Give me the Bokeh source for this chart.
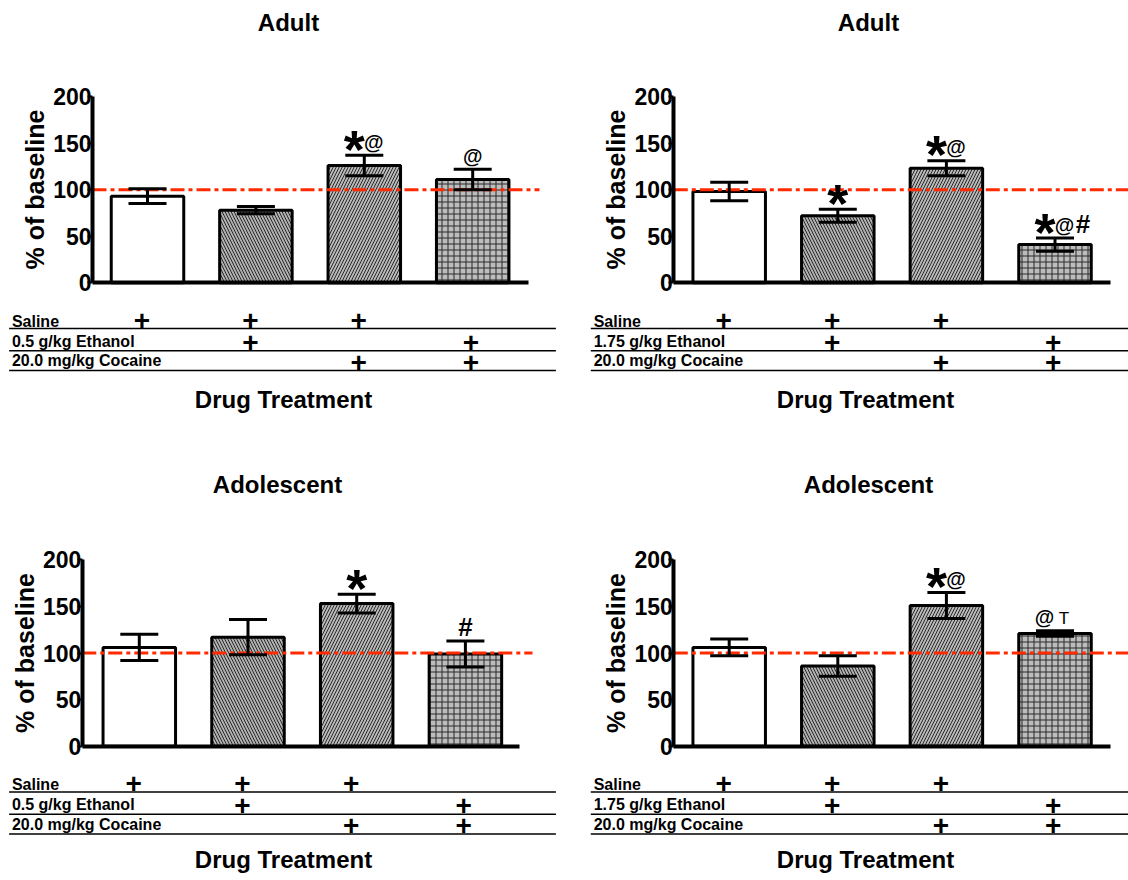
from bokeh.plotting import figure
from bokeh.models import Range1d, FixedTicker, ColumnDataSource, Whisker, TeeHead
from bokeh.layouts import row, column
from bokeh.core.properties import value
from bokeh.embed import file_html
from bokeh.resources import INLINE

# ---------------- data ----------------
bar_pos = [1, 2, 3, 4]
saline_plus = [1, 1, 1, 0]
ethanol_plus = [0, 1, 0, 1]
cocaine_plus = [0, 0, 1, 1]
rows_low = ["Saline", "0.5 g/kg Ethanol", "20.0 mg/kg Cocaine"]
rows_high = ["Saline", "1.75 g/kg Ethanol", "20.0 mg/kg Cocaine"]
y_ticks = [0, 50, 100, 150, 200]
baseline_pct = 100
x_title = "Drug Treatment"
y_title = "% of baseline"

adult_low_mean = [93, 78, 126, 111]
adult_low_sem = [8, 4, 11, 11]
adult_low_marks = ["", "", "*@", "@"]

adult_high_mean = [98, 72, 123, 41]
adult_high_sem = [10, 7, 8, 7]
adult_high_marks = ["", "*", "*@", "*@#"]

adol_low_mean = [106, 117, 153, 99]
adol_low_sem = [14, 19, 10, 14]
adol_low_marks = ["", "", "*", "#"]

adol_high_mean = [106, 86, 151, 121]
adol_high_sem = [9, 11, 14, 3]
adol_high_marks = ["", "", "*@", "@ T"]

# ---------------- styling / layout ----------------
FONT = value("Liberation Sans")
bar_fill = ["#ffffff", "#b0b0b0", "#b8b8b8", "#bcbcbc"]
bar_hatch = [" ", "\\", "/", "+"]
plus_dx = [-5.5, -5.5, -5.5, -1.7]
line_dy = [45.8, 68.0, 87.7]
plus_dy = [37.4, 59.4, 79.4]
text_dy = [38.6, 58.6, 78.0]   # centre of row label text
CHAR = {  # size px, weight, advance px, shift of em-middle below ink centre
    "*": (54, "bold", 20, 5.5),
    "@": (20, "bold", 19, -1.5),
    "#": (26, "bold", 18, -2.0),
    "T": (17, "normal", 12, 0.0),
    " ": (0, "normal", 4, 0.0),
}

PANELS = [
    dict(title="Adult", rows=rows_low, mean=adult_low_mean, sem=adult_low_sem, marks=adult_low_marks,
         ox=0, oy=0, w=568, h=470, axis_x=92, axis_end=528, c1=147, step=108.4,
         y0=282.3, y200=96.0, ref_end=539, lx0=8.6, lx1=555.4, label_x=11.4,
         title_xy=(288, 21.7), xlab_xy=(283, 399)),
    dict(title="Adult", rows=rows_high, mean=adult_high_mean, sem=adult_high_sem, marks=adult_high_marks,
         ox=568, oy=0, w=560, h=470, axis_x=673.3, axis_end=1109.7, c1=728.7, step=108.6,
         y0=282.3, y200=96.0, ref_end=1128, lx0=590.3, lx1=1128, label_x=593.2,
         title_xy=(868, 21.7), xlab_xy=(865, 399)),
    dict(title="Adolescent", rows=rows_low, mean=adol_low_mean, sem=adol_low_sem, marks=adol_low_marks,
         ox=0, oy=470, w=568, h=410, axis_x=81.8, axis_end=519, c1=138.8, step=108.7,
         y0=745.7, y200=559.3, ref_end=532, lx0=8.6, lx1=555.4, label_x=11.4,
         title_xy=(277, 484), xlab_xy=(283, 859)),
    dict(title="Adolescent", rows=rows_high, mean=adol_high_mean, sem=adol_high_sem, marks=adol_high_marks,
         ox=568, oy=470, w=560, h=410, axis_x=673.3, axis_end=1109.7, c1=728.7, step=108.6,
         y0=745.7, y200=559.3, ref_end=1128, lx0=590.3, lx1=1128, label_x=593.2,
         title_xy=(868, 484), xlab_xy=(865, 859)),
]


def build(P):
    k = (P["y0"] - P["y200"]) / 200.0
    step = P["step"]
    xs0 = 1 - (P["c1"] - P["ox"]) / step

    def X(px):
        return xs0 + (px - P["ox"]) / step

    def Y(py):
        return (P["y0"] - py) / k

    p = figure(width=P["w"], height=P["h"],
               x_range=Range1d(X(P["ox"]), X(P["ox"] + P["w"])),
               y_range=Range1d(Y(P["oy"] + P["h"]), Y(P["oy"])),
               output_backend="svg", toolbar_location=None, title=None,
               min_border=0, outline_line_color=None, background_fill_color="white",
               border_fill_color="white")
    p.grid.visible = False

    # axes
    xa = p.xaxis[0]
    xa.fixed_location = 0
    xa.bounds = (X(P["axis_x"]), X(P["axis_end"]))
    xa.ticker = FixedTicker(ticks=[])
    xa.axis_line_width = 4
    xa.major_tick_line_color = None
    xa.minor_tick_line_color = None

    ya = p.yaxis[0]
    ya.fixed_location = X(P["axis_x"])
    ya.bounds = (0, 200)
    ya.ticker = FixedTicker(ticks=y_ticks)
    ya.axis_line_width = 4
    ya.major_tick_in = 0
    ya.major_tick_out = 5
    ya.major_tick_line_width = 2
    ya.minor_tick_line_color = None
    ya.major_label_standoff = -4
    ya.major_label_text_font = "Liberation Sans"
    ya.major_label_text_font_style = "bold"
    ya.major_label_text_font_size = "23px"
    ya.major_label_text_color = "black"
    ya.axis_label = y_title
    ya.axis_label_text_font = "Liberation Sans"
    ya.axis_label_text_font_style = "bold"
    ya.axis_label_text_font_size = "25px"
    ya.axis_label_text_color = "black"
    ya.axis_label_standoff = 1

    mean, sem = P["mean"], P["sem"]
    src = ColumnDataSource(dict(
        x=bar_pos, top=mean,
        upper=[m + s for m, s in zip(mean, sem)],
        lower=[m - s for m, s in zip(mean, sem)],
        fill=bar_fill, hatch=bar_hatch))
    p.vbar(x="x", top="top", bottom=0, width=72.5 / step, source=src,
           fill_color="fill", line_color="black", line_width=3,
           hatch_pattern="hatch", hatch_color="#2a2a2a", hatch_scale=6, hatch_weight=1)

    p.segment(x0=[X(P["axis_x"])], x1=[X(P["ref_end"])], y0=[baseline_pct], y1=[baseline_pct],
              line_color="#ff2a00", line_width=3, line_dash="14 4 4 4")

    wk = Whisker(source=src, base="x", upper="upper", lower="lower", dimension="height",
                 line_width=3, line_color="black", level="annotation",
                 upper_head=TeeHead(size=38, line_width=3, line_color="black"),
                 lower_head=TeeHead(size=38, line_width=3, line_color="black"))
    p.add_layout(wk)

    # significance marks
    for i, s in enumerate(P["marks"]):
        if not s:
            continue
        upper_px = P["y0"] - (mean[i] + sem[i]) * k
        cx = P["c1"] + i * step
        if len(s) == 1:
            pos = cx - CHAR[s][2] / 2.0
        else:
            pos = cx - 20
        for ch in s:
            size, weight, adv, shift = CHAR[ch]
            if ch != " ":
                mid_py = upper_px - 12 + shift
                p.text(x=[X(pos + adv / 2.0)], y=[Y(mid_py)], text=[ch],
                       text_font=FONT, text_font_size=f"{size}px", text_font_style=weight,
                       text_align="center", text_baseline="middle", text_color="black")
            pos += adv

    # treatment table
    presence = [saline_plus, ethanol_plus, cocaine_plus]
    for r in range(3):
        ly = Y(P["y0"] + line_dy[r])
        p.segment(x0=[X(P["lx0"])], x1=[X(P["lx1"])], y0=[ly], y1=[ly],
                  line_color="black", line_width=1.5)
        p.text(x=[X(P["label_x"])], y=[Y(P["y0"] + text_dy[r])], text=[P["rows"][r]],
               text_font=FONT, text_font_size="16px", text_font_style="bold",
               text_align="left", text_baseline="middle", text_color="black")
        px_list = [bar_pos[i] + plus_dx[i] / step for i in range(4) if presence[r][i]]
        p.text(x=px_list, y=[Y(P["y0"] + plus_dy[r])] * len(px_list), text=["+"] * len(px_list),
               text_font=FONT, text_font_size="28px", text_font_style="bold",
               text_align="center", text_baseline="middle", text_color="black")

    # titles
    tx, ty = P["title_xy"]
    p.text(x=[X(tx)], y=[Y(ty)], text=[P["title"]], text_font=FONT, text_font_size="24px",
           text_font_style="bold", text_align="center", text_baseline="middle", text_color="black")
    gx, gy = P["xlab_xy"]
    p.text(x=[X(gx)], y=[Y(gy)], text=[x_title], text_font=FONT, text_font_size="24px",
           text_font_style="bold", text_align="center", text_baseline="middle", text_color="black")
    return p


figs = [build(P) for P in PANELS]
layout = column(row(figs[0], figs[1]), row(figs[2], figs[3]))
open("out.html", "w").write(file_html(layout, INLINE))
